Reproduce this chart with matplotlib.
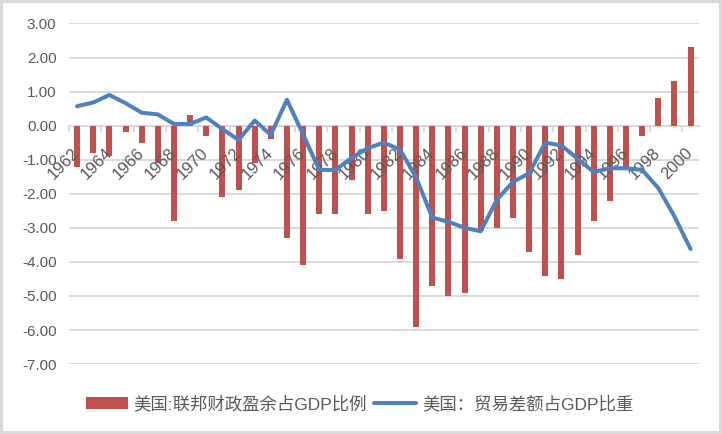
import matplotlib.pyplot as plt
import numpy as np

plt.rcParams['font.family'] = ['Liberation Sans', 'Noto Sans CJK SC', 'DejaVu Sans']

years = list(range(1962, 2001))
fiscal = [-1.2, -0.8, -0.9, -0.2, -0.5, -1.1, -2.8, 0.3, -0.3, -2.1,
          -1.9, -1.1, -0.4, -3.3, -4.1, -2.6, -2.6, -1.6, -2.6, -2.5,
          -3.9, -5.9, -4.7, -5.0, -4.9, -3.1, -3.0, -2.7, -3.7, -4.4,
          -4.5, -3.8, -2.8, -2.2, -1.3, -0.3, 0.8, 1.3, 2.3]
trade = [0.57, 0.68, 0.90, 0.66, 0.38, 0.33, 0.05, 0.05, 0.24, -0.10,
         -0.42, 0.15, -0.27, 0.76, -0.26, -1.30, -1.30, -0.95, -0.66, -0.50,
         -0.70, -1.52, -2.70, -2.82, -3.00, -3.10, -2.18, -1.65, -1.40, -0.50,
         -0.58, -0.97, -1.36, -1.25, -1.25, -1.30, -1.83, -2.66, -3.62]
label_fiscal = '美国:联邦财政盈余占GDP比例'
label_trade = '美国：贸易差额占GDP比重'

grey = '#595959'
grid = '#D9D9D9'
red = '#C0504D'
blue = '#4F81BD'

fig = plt.figure(figsize=(7.22, 4.34), dpi=100)
fig.patch.set_edgecolor(grid)
fig.patch.set_linewidth(3)
ax = fig.add_axes([0.0956, 0.161, 0.872, 0.785])

x = np.arange(len(years))
yticks = np.arange(-7, 3.5, 1)

# gridlines behind the bars, tick labels above the bars, line on top
ax.hlines(yticks, -0.5, len(years) - 0.5, color=grid, lw=1.4, zorder=0.5)
bars = ax.bar(x, fiscal, width=0.37, color=red, label=label_fiscal, zorder=1)
line, = ax.plot(x, trade, color=blue, lw=2.9, solid_joinstyle='round',
                solid_capstyle='round', label=label_trade, zorder=3)

ax.set_xlim(-0.5, len(years) - 0.5)
ax.set_ylim(-7, 3)
ax.set_yticks(yticks)
ax.set_yticklabels([f'{v:.2f}' for v in yticks])
ax.xaxis.set_zorder(2)

for s in ['top', 'right', 'left']:
    ax.spines[s].set_visible(False)
ax.spines['bottom'].set_position(('data', 0))
ax.spines['bottom'].set_color(grid)
ax.spines['bottom'].set_linewidth(1.4)
ax.spines['bottom'].set_zorder(0.6)

ax.set_xticks(x[::2])
ax.set_xticklabels([str(y) for y in years[::2]])
ax.set_xticks(np.arange(-0.5, len(years), 2), minor=True)
ax.tick_params(axis='x', which='major', length=0, pad=18, labelsize=12, labelcolor=grey)
ax.tick_params(axis='x', which='minor', length=4, width=1.4, color=grid)
ax.tick_params(axis='y', length=0, pad=9, labelsize=11, labelcolor=grey)
plt.setp(ax.get_xticklabels(), rotation=45, ha='right', va='center', rotation_mode='anchor')

fig.legend([bars, line], [label_fiscal, label_trade], loc='center',
           bbox_to_anchor=(0.498, 0.069), ncol=2, frameon=False,
           fontsize=12.5, labelcolor=grey, handlelength=2.4, handleheight=0.7,
           handletextpad=0.35, columnspacing=0.4)

fig.savefig('out.png', dpi=100)
